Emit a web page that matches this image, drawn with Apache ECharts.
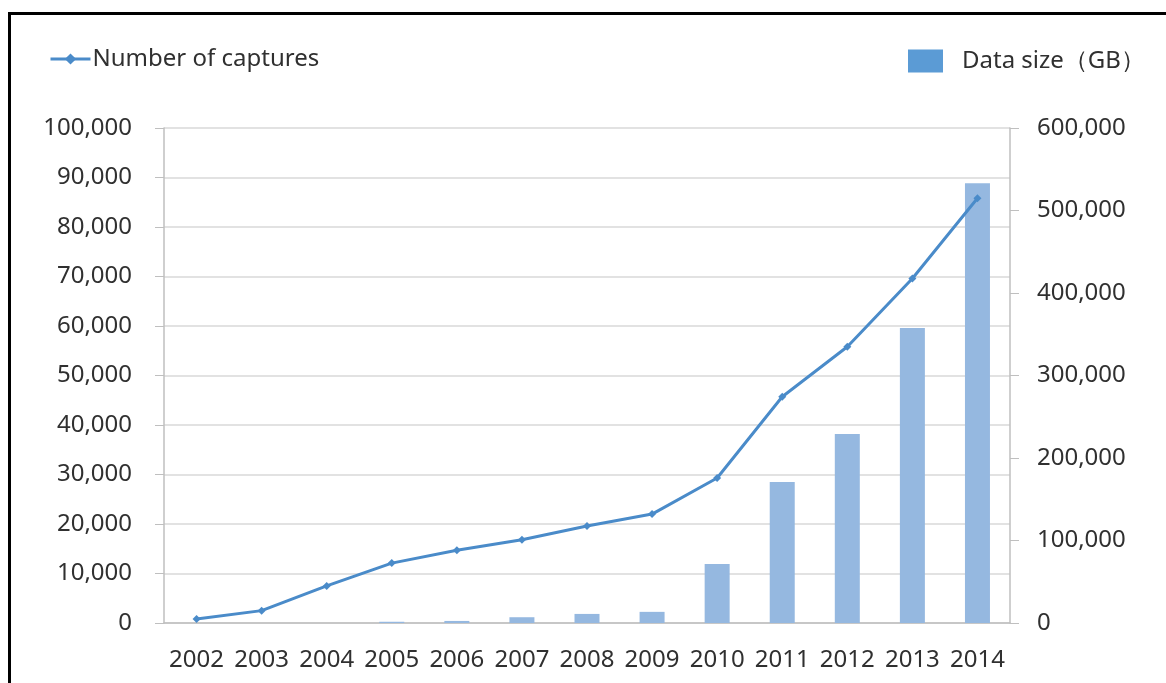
<!DOCTYPE html>
<html>
<head>
<meta charset="utf-8">
<script src="https://cdn.jsdelivr.net/npm/echarts@6/dist/echarts.min.js"></script>
<style>
  html, body { margin: 0; padding: 0; background: #fff; }
  #chart { width: 1166px; height: 683px; }
</style>
</head>
<body>
<div id="chart"></div>
<script>
const years = ['2002', '2003', '2004', '2005', '2006', '2007', '2008', '2009', '2010', '2011', '2012', '2013', '2014'];
// number of captures (left axis)
const captures = [800, 2500, 7500, 12100, 14700, 16800, 19600, 22000, 29300, 45700, 55800, 69600, 85800];
// data size in GB (right axis)
const dataSize = [0, 0, 0, 1500, 2500, 7000, 11000, 13500, 71500, 171000, 229000, 357500, 533000];

const textColor = '#303030';
const font = '"Noto Sans", sans-serif';
const fs = 24;

const chart = echarts.init(document.getElementById('chart'));
chart.setOption({
    animation: false,
    backgroundColor: '#fff',
    textStyle: { fontFamily: font },
    graphic: [
        { type: 'line', shape: { x1: 9.5, y1: 13.5, x2: 9.5, y2: 683 }, style: { stroke: '#000', lineWidth: 3 } },
        { type: 'line', shape: { x1: 8, y1: 13.5, x2: 1166, y2: 13.5 }, style: { stroke: '#000', lineWidth: 3 } }
    ],
    legend: [
        {
            left: 49, top: 47, padding: 0,
            itemWidth: 40, itemHeight: 14, itemGap: 2,
            textStyle: { fontSize: fs, color: textColor, fontFamily: font, padding: [0, 0, 0, -3] },
            data: [{ name: 'Number of captures', lineStyle: { width: 3 } }]
        },
        {
            left: 908, top: 49, padding: 0,
            itemWidth: 35, itemHeight: 23,
            textStyle: { fontSize: fs, color: textColor, fontFamily: font, padding: [0, 0, 0, 14] },
            data: [{ name: 'Data size（GB）', icon: 'rect', itemStyle: { color: '#5b9bd5' } }]
        }
    ],
    grid: { left: 164, right: 156, top: 128, bottom: 60 },
    xAxis: {
        type: 'category',
        data: years,
        axisLine: { lineStyle: { color: '#bfbfbf', width: 1.5 } },
        axisTick: { alignWithLabel: true, length: 9, lineStyle: { color: '#bfbfbf' } },
        axisLabel: { color: textColor, fontSize: fs, margin: 25, fontFamily: font, interval: 0 }
    },
    yAxis: [
        {
            type: 'value', min: 0, max: 100000, interval: 10000,
            axisLine: { show: true, lineStyle: { color: '#bfbfbf', width: 1.5 } },
            axisTick: { show: true, length: 9, lineStyle: { color: '#bfbfbf' } },
            splitLine: { lineStyle: { color: '#d9d9d9', width: 1.5 } },
            axisLabel: {
                color: textColor, fontSize: fs, margin: 32, fontFamily: font,
                formatter: v => v.toLocaleString('en-US')
            }
        },
        {
            type: 'value', min: 0, max: 600000, interval: 100000,
            axisLine: { show: true, lineStyle: { color: '#bfbfbf', width: 1.5 } },
            axisTick: { show: true, length: 9, lineStyle: { color: '#bfbfbf' } },
            splitLine: { show: false },
            axisLabel: {
                color: textColor, fontSize: fs, margin: 27, fontFamily: font,
                formatter: v => v.toLocaleString('en-US')
            }
        }
    ],
    series: [
        {
            name: 'Data size（GB）',
            type: 'bar',
            yAxisIndex: 1,
            data: dataSize,
            barWidth: 25,
            itemStyle: { color: '#95b8e0' }
        },
        {
            name: 'Number of captures',
            type: 'line',
            yAxisIndex: 0,
            data: captures,
            symbol: 'diamond',
            symbolSize: 8,
            itemStyle: { color: '#4a8bc9' },
            lineStyle: { color: '#4a8bc9', width: 3 }
        }
    ]
});
</script>
</body>
</html>
